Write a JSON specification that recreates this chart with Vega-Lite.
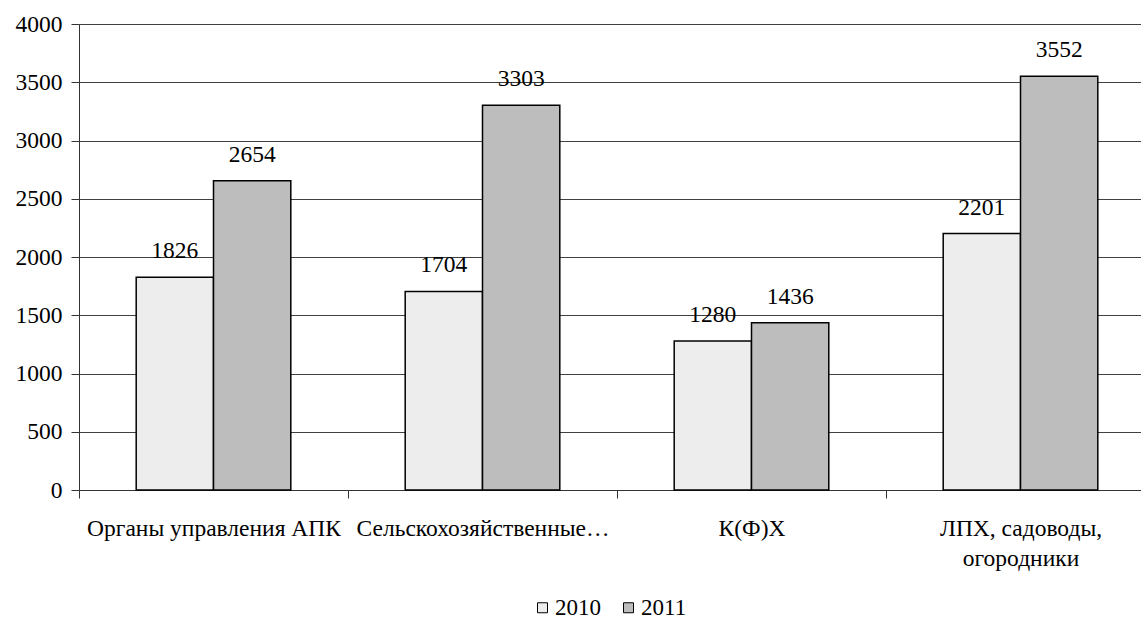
{
  "$schema": "https://vega.github.io/schema/vega-lite/v6.json",
  "width": 1076,
  "height": 466,
  "autosize": {"type": "none"},
  "padding": {"left": 79, "top": 24, "right": 0, "bottom": 140},
  "background": "white",
  "data": {
    "values": [
      {"cat": "Органы управления АПК", "year": "2010", "value": 1826},
      {"cat": "Органы управления АПК", "year": "2011", "value": 2654},
      {"cat": "Сельскохозяйственные…", "year": "2010", "value": 1704},
      {"cat": "Сельскохозяйственные…", "year": "2011", "value": 3303},
      {"cat": "К(Ф)Х", "year": "2010", "value": 1280},
      {"cat": "К(Ф)Х", "year": "2011", "value": 1436},
      {"cat": "ЛПХ, садоводы, огородники", "year": "2010", "value": 2201},
      {"cat": "ЛПХ, садоводы, огородники", "year": "2011", "value": 3552}
    ]
  },
  "encoding": {
    "x": {
      "field": "cat",
      "type": "nominal",
      "sort": null,
      "scale": {"paddingInner": 0, "paddingOuter": 0},
      "axis": {
        "title": null,
        "labelAngle": 0,
        "tickBand": "extent",
        "ticks": true,
        "tickSize": 8,
        "tickColor": "#333333",
        "domainColor": "#333333",
        "labelPadding": 18,
        "labelFont": "Liberation Serif",
        "labelFontSize": 23.5,
        "labelColor": "black",
        "labelLimit": 0,
        "labelLineHeight": 30,
        "labelBaseline": "top",
        "grid": false,
        "labelExpr": "datum.value == 'ЛПХ, садоводы, огородники' ? ['ЛПХ, садоводы,', 'огородники'] : datum.value"
      }
    },
    "xOffset": {
      "field": "year",
      "type": "nominal",
      "scale": {"paddingOuter": 0.74, "paddingInner": 0}
    },
    "y": {
      "field": "value",
      "type": "quantitative",
      "scale": {"domain": [0, 4000], "nice": false},
      "axis": {
        "title": null,
        "values": [0, 500, 1000, 1500, 2000, 2500, 3000, 3500, 4000],
        "grid": true,
        "gridColor": "#404040",
        "gridWidth": 1,
        "domainColor": "#333333",
        "tickColor": "#333333",
        "tickSize": 8,
        "labelPadding": 9,
        "labelFont": "Liberation Serif",
        "labelFontSize": 23.5,
        "labelColor": "black",
        "format": "d"
      }
    }
  },
  "layer": [
    {
      "mark": {"type": "bar", "stroke": "black", "strokeWidth": 1.5},
      "encoding": {
        "fill": {
          "field": "year",
          "type": "nominal",
          "scale": {"range": ["#ededed", "#bdbdbd"]},
          "legend": {
            "title": null,
            "orient": "none",
            "legendX": 452,
            "legendY": 572,
            "direction": "horizontal",
            "symbolType": "square",
            "symbolSize": 100,
            "symbolStrokeColor": "black",
            "symbolStrokeWidth": 1,
            "labelFont": "Liberation Serif",
            "labelFontSize": 23,
            "labelColor": "black",
            "labelOffset": 1,
            "columnPadding": 16
          }
        }
      }
    },
    {
      "mark": {"type": "text", "dy": -19, "baseline": "alphabetic", "font": "Liberation Serif", "fontSize": 23.5, "color": "black"},
      "encoding": {"text": {"field": "value", "type": "nominal"}}
    }
  ],
  "config": {
    "view": {"stroke": null},
    "font": "Liberation Serif"
  }
}
